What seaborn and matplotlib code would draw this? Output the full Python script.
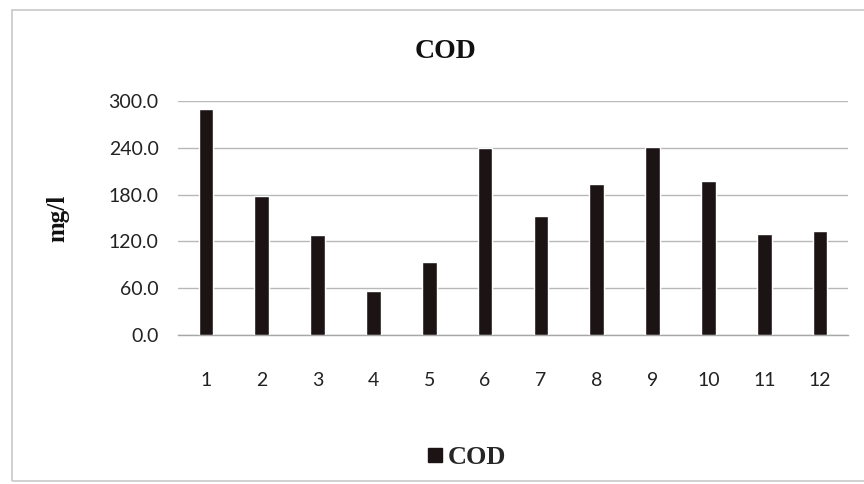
import matplotlib
matplotlib.use("Agg")
import matplotlib.pyplot as plt
import seaborn as sns
import pandas as pd
from matplotlib.patches import Rectangle
from matplotlib.lines import Line2D

categories = ["1", "2", "3", "4", "5", "6", "7", "8", "9", "10", "11", "12"]
cod_values = [290, 178, 128, 56, 94, 240, 153, 194, 241, 198, 130, 133]
yticks = [0, 60, 120, 180, 240, 300]
ytick_labels = ["0.0", "60.0", "120.0", "180.0", "240.0", "300.0"]

df = pd.DataFrame({"sample": categories, "COD": cod_values})

sns.set_theme(style="white")
plt.rcParams["font.family"] = ["Lato", "DejaVu Sans"]

fig = plt.figure(figsize=(8.64, 4.84), dpi=100)
ax = fig.add_axes([178/864, 1-335/484, (848-178)/864, (335-101)/484])

bar_color = "#1c1414"
sns.barplot(data=df, x="sample", y="COD", color=bar_color, width=0.26,
            saturation=1, ax=ax, zorder=3)

ax.set_ylim(0, 300)
ax.set_yticks(yticks)
ax.set_yticklabels(ytick_labels, fontsize=14, color="#222222")
ax.tick_params(axis="x", labelsize=14, colors="#222222", pad=27, length=0)
ax.tick_params(axis="y", length=0, pad=14)
ax.grid(axis="y", color="#b8b8b8", linewidth=1.0, zorder=0)
for s in ["top", "right", "left"]:
    ax.spines[s].set_visible(False)
ax.spines["bottom"].set_color("#a8a8a8")
ax.spines["bottom"].set_linewidth(1.0)
ax.set_xlabel("")
ax.set_ylabel("mg/l", fontsize=18, fontweight="bold", family="Liberation Serif",
              labelpad=28, color="#111111")

fig.text(446/864, 1-52/484, "COD", ha="center", va="center", fontsize=20,
         fontweight="bold", family="Liberation Serif", color="#111111")

handle = Line2D([], [], marker="s", linestyle="none", color=bar_color, markersize=10)
fig.legend([handle], ["COD"], loc="center", bbox_to_anchor=(464/864, 1-457/484),
           frameon=False, prop={"family": "Liberation Serif", "weight": "bold", "size": 19},
           handletextpad=0.0, handlelength=1.0)

fig.patches.append(Rectangle((12/864, 3/484), 0.99, 1-13/484, transform=fig.transFigure,
                             fill=False, edgecolor="#c8c8c8", linewidth=1.2))

fig.savefig("out.png", dpi=100, facecolor="white")
